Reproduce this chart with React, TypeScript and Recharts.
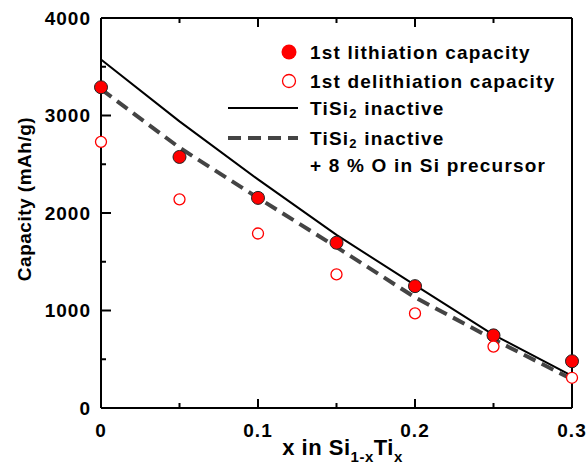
import React from 'react';
import { ComposedChart, Line, XAxis, YAxis, Legend } from 'recharts';

const xValues = [0, 0.05, 0.1, 0.15, 0.2, 0.25, 0.3];
const lithiation = [3290, 2575, 2155, 1695, 1250, 745, 480];
const delithiation = [2730, 2140, 1790, 1370, 970, 630, 310];
const inactive = [3575, 2940, 2345, 1775, 1260, 750, 330];
const inactiveOxygen = [3270, 2670, 2155, 1650, 1135, 705, 295];

const xTicks = [0, 0.05, 0.1, 0.15, 0.2, 0.25, 0.3];
const yTicks = [0, 500, 1000, 1500, 2000, 2500, 3000, 3500, 4000];

const data = xValues.map((x, i) => ({
  x,
  lith: lithiation[i],
  delith: delithiation[i],
  inactive: inactive[i],
  inactiveO: inactiveOxygen[i],
}));

const FONT = '"Liberation Sans", Arial, Helvetica, sans-serif';
const isMajorX = (v: number) => Math.abs(Math.round(v * 10) - v * 10) < 1e-6;
const isMajorY = (v: number) => v % 1000 === 0;
const axisStroke = { stroke: '#000', strokeWidth: 2 };

// ticks point inward; majors are longer and carry the labels
function BottomTick(props: any) {
  const { x, y, payload } = props;
  const major = isMajorX(payload.value);
  return (
    <g>
      <path d={`M${x},${y}v${major ? -9 : -5}`} stroke="#000" strokeWidth={2} fill="none" />
      {major && (
        <text x={x} y={y + 22.5} textAnchor="middle" dominantBaseline="central" fontFamily={FONT} fontWeight="bold" fontSize={19} letterSpacing={1} fill="#000">
          {payload.value === 0 ? '0' : payload.value.toFixed(1)}
        </text>
      )}
    </g>
  );
}

function TopTick(props: any) {
  const { x, y, payload } = props;
  return <path d={`M${x},${y}v${isMajorX(payload.value) ? 9 : 5}`} stroke="#000" strokeWidth={2} fill="none" />;
}

function LeftTick(props: any) {
  const { x, y, payload } = props;
  const major = isMajorY(payload.value);
  return (
    <g>
      <path d={`M${x},${y}h${major ? 10 : 5}`} stroke="#000" strokeWidth={2} fill="none" />
      {major && (
        <text x={x - 10} y={y} textAnchor="end" dominantBaseline="central" fontFamily={FONT} fontWeight="bold" fontSize={19} letterSpacing={1} fill="#000">
          {payload.value}
        </text>
      )}
    </g>
  );
}

function RightTick(props: any) {
  const { x, y, payload } = props;
  return <path d={`M${x},${y}h${isMajorY(payload.value) ? -10 : -5}`} stroke="#000" strokeWidth={2} fill="none" />;
}

function FilledDot(props: any) {
  const { cx, cy } = props;
  if (cx == null || cy == null) return null;
  return <circle cx={cx} cy={cy} r={6.5} fill="#ff0000" stroke="#222" strokeWidth={1} />;
}

function OpenDot(props: any) {
  const { cx, cy } = props;
  if (cx == null || cy == null) return null;
  return <circle cx={cx} cy={cy} r={5.5} fill="#fff" stroke="#ff0000" strokeWidth={1.3} />;
}

function XTitle(props: any) {
  const { viewBox } = props;
  const cx = viewBox.x + viewBox.width / 2 + 6;
  return (
    <text x={cx} y={viewBox.y + 47} textAnchor="middle" fontFamily={FONT} fontWeight="bold" fontSize={22} letterSpacing={0.5} fill="#000">
      <tspan>x in Si</tspan>
      <tspan fontSize={15} dy={7}>1-x</tspan>
      <tspan dy={-7}>Ti</tspan>
      <tspan fontSize={15} dy={7}>x</tspan>
    </text>
  );
}

function YTitle() {
  return (
    <text x={24} y={199} transform="rotate(-90 24 199)" textAnchor="middle" dominantBaseline="central" fontFamily={FONT} fontWeight="bold" fontSize={19} letterSpacing={0.5} fill="#000">
      Capacity (mAh/g)
    </text>
  );
}

function LegendBox() {
  const t = { fontFamily: FONT, fontWeight: 'bold' as const, fontSize: 19, letterSpacing: 1.2, fill: '#000', dominantBaseline: 'central' as const };
  return (
    <svg width={360} height={150} style={{ display: 'block' }}>
      <circle cx={69} cy={22} r={7.5} fill="#ff0000" />
      <text x={90} y={22} {...t}>1st lithiation capacity</text>
      <circle cx={69} cy={51} r={6.5} fill="#fff" stroke="#ff0000" strokeWidth={1.3} />
      <text x={90} y={51} {...t}>1st delithiation capacity</text>
      <line x1={8} x2={78} y1={78} y2={78} stroke="#000" strokeWidth={2} />
      <text x={90} y={78} {...t}>
        TiSi<tspan fontSize={13} dy={5}>2</tspan><tspan dy={-5}> inactive</tspan>
      </text>
      <line x1={8} x2={78} y1={108} y2={108} stroke="#444" strokeWidth={4} strokeDasharray="13 7" />
      <text x={90} y={108} {...t}>
        TiSi<tspan fontSize={13} dy={5}>2</tspan><tspan dy={-5}> inactive</tspan>
      </text>
      <text x={90} y={135} {...t}>+ 8 % O in Si precursor</text>
    </svg>
  );
}

export default function App() {
  return (
    <div style={{ position: 'absolute', left: 0, top: 0, background: '#fff' }}>
      <ComposedChart width={588} height={465} data={data} margin={{ top: 0, right: 0, bottom: 0, left: 0 }}>
        <XAxis
          xAxisId="bottom"
          dataKey="x"
          type="number"
          domain={[0, 0.3]}
          ticks={xTicks}
          interval={0}
          height={57}
          tickSize={0}
          tickMargin={0}
          tickLine={false}
          tick={<BottomTick />}
          axisLine={axisStroke}
          label={<XTitle />}
        />
        <XAxis
          xAxisId="top"
          orientation="top"
          dataKey="x"
          type="number"
          domain={[0, 0.3]}
          ticks={xTicks}
          interval={0}
          height={18}
          tickSize={0}
          tickMargin={0}
          tickLine={false}
          tick={<TopTick />}
          axisLine={axisStroke}
        />
        <YAxis
          yAxisId="left"
          type="number"
          domain={[0, 4000]}
          ticks={yTicks}
          interval={0}
          width={101}
          tickSize={0}
          tickMargin={0}
          tickLine={false}
          tick={<LeftTick />}
          axisLine={axisStroke}
          label={<YTitle />}
        />
        <YAxis
          yAxisId="right"
          orientation="right"
          type="number"
          domain={[0, 4000]}
          ticks={yTicks}
          interval={0}
          width={16}
          tickSize={0}
          tickMargin={0}
          tickLine={false}
          tick={<RightTick />}
          axisLine={axisStroke}
        />
        <Legend
          layout="horizontal"
          verticalAlign="middle"
          content={() => <LegendBox />}
          wrapperStyle={{ position: 'absolute', left: 220, top: 30, width: 360, height: 150 }}
        />
        <Line xAxisId="bottom" yAxisId="left" dataKey="inactive" stroke="#000" strokeWidth={2} dot={false} isAnimationActive={false} />
        <Line xAxisId="bottom" yAxisId="left" dataKey="inactiveO" stroke="#444" strokeWidth={4} strokeDasharray="13 7" dot={false} isAnimationActive={false} />
        <Line xAxisId="bottom" yAxisId="left" dataKey="lith" stroke="none" dot={<FilledDot />} activeDot={false} isAnimationActive={false} />
        <Line xAxisId="bottom" yAxisId="left" dataKey="delith" stroke="none" dot={<OpenDot />} activeDot={false} isAnimationActive={false} />
      </ComposedChart>
    </div>
  );
}
